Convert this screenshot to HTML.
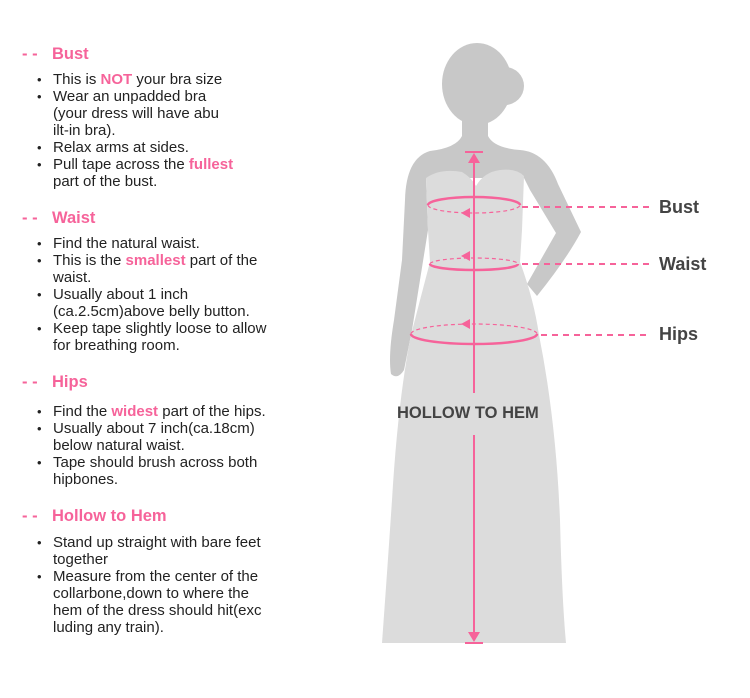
<!DOCTYPE html>
<html><head><meta charset="utf-8"><style>
html,body{margin:0;padding:0;background:#fff}
svg{display:block}
text{font-family:"Liberation Sans","DejaVu Sans",sans-serif}
.t{font-size:15px;fill:#222}
.p{fill:#f6639a;font-weight:bold}
.h{font-size:16.5px;fill:#f6639a;font-weight:bold}
.b{font-size:13px;fill:#222}
.l{font-size:18px;fill:#444;font-weight:bold}
</style></head><body>
<svg width="750" height="698" viewBox="0 0 750 698" xmlns="http://www.w3.org/2000/svg">
<g fill="#c8c8c8">
<ellipse cx="477" cy="84" rx="35" ry="41"/>
<circle cx="505" cy="86" r="19"/>
<path d="M462 110 L488 110 L488 136 Q494 148 520 150 Q546 152 558 184 L581 232 Q566 260 537 296 L527 284 L556 233 L530 190 L524 178 L426 178 L428 230 L420 280 L412 330 L404 370 Q398 380 391 374 Q388 356 394 320 L402 260 L405 200 Q406 158 430 151 Q456 148 462 136 Z"/>
</g>
<path fill="#dcdcdc" d="M426 178 Q440 168 462 172 Q472 178 476 186 Q484 172 500 170 Q516 168 524 176 L522 230 L520 262 Q534 300 539 335 Q556 420 560 520 Q562 600 566 643 L382 643 Q388 560 392 500 Q398 400 411 335 Q420 300 430 262 L428 230 Z"/>
<g stroke="#f6639a" fill="none">
<path d="M428 205 A46 8 0 0 1 520 205" stroke-width="2.5"/>
<path d="M428 205 A46 8 0 0 0 520 205" stroke-width="1.2" stroke-dasharray="4 3"/>
<path d="M430 264 A44 6 0 0 1 518 264" stroke-width="1.2" stroke-dasharray="4 3"/>
<path d="M430 264 A44 6 0 0 0 518 264" stroke-width="2.5"/>
<path d="M411 334 A63 10 0 0 1 537 334" stroke-width="1.2" stroke-dasharray="4 3"/>
<path d="M411 334 A63 10 0 0 0 537 334" stroke-width="2.5"/>
<line x1="522" y1="207" x2="650" y2="207" stroke-width="2" stroke-dasharray="6 5"/>
<line x1="522" y1="264" x2="650" y2="264" stroke-width="2" stroke-dasharray="6 5"/>
<line x1="541" y1="335" x2="650" y2="335" stroke-width="2" stroke-dasharray="6 5"/>
<line x1="474" y1="160" x2="474" y2="393" stroke-width="2"/>
<line x1="474" y1="435" x2="474" y2="636" stroke-width="2"/>
<line x1="465" y1="152" x2="483" y2="152" stroke-width="2"/>
<line x1="465" y1="643" x2="483" y2="643" stroke-width="2"/>
</g>
<g fill="#f6639a">
<path d="M474 153 L468 163 L480 163 Z"/>
<path d="M474 642 L468 632 L480 632 Z"/>
<path d="M461 213 L470 208 L470 218 Z"/>
<path d="M461 256 L470 251 L470 261 Z"/>
<path d="M461 324 L470 319 L470 329 Z"/>
</g>
<text x="397" y="418" font-size="16.5" font-weight="bold" fill="#444">HOLLOW TO HEM</text>
<text class="l" x="659" y="213">Bust</text>
<text class="l" x="659" y="270">Waist</text>
<text class="l" x="659" y="340">Hips</text>
<g>
<text class="h" x="22" y="59">- -</text><text class="h" x="52" y="59">Bust</text>
<text class="b" x="37" y="84">•</text><text class="t" x="53" y="84">This is <tspan class="p">NOT</tspan> your bra size</text>
<text class="b" x="37" y="101">•</text><text class="t" x="53" y="101">Wear an unpadded bra</text>
<text class="t" x="53" y="118">(your dress will have abu</text>
<text class="t" x="53" y="135">ilt-in bra).</text>
<text class="b" x="37" y="152">•</text><text class="t" x="53" y="152">Relax arms at sides.</text>
<text class="b" x="37" y="169">•</text><text class="t" x="53" y="169">Pull tape across the <tspan class="p">fullest</tspan></text>
<text class="t" x="53" y="186">part of the bust.</text>

<text class="h" x="22" y="223">- -</text><text class="h" x="52" y="223">Waist</text>
<text class="b" x="37" y="248">•</text><text class="t" x="53" y="248">Find the natural waist.</text>
<text class="b" x="37" y="265">•</text><text class="t" x="53" y="265">This is the <tspan class="p">smallest</tspan> part of the</text>
<text class="t" x="53" y="282">waist.</text>
<text class="b" x="37" y="299">•</text><text class="t" x="53" y="299">Usually about 1 inch</text>
<text class="t" x="53" y="316">(ca.2.5cm)above belly button.</text>
<text class="b" x="37" y="333">•</text><text class="t" x="53" y="333">Keep tape slightly loose to allow</text>
<text class="t" x="53" y="350">for breathing room.</text>

<text class="h" x="22" y="387">- -</text><text class="h" x="52" y="387">Hips</text>
<text class="b" x="37" y="416">•</text><text class="t" x="53" y="416">Find the <tspan class="p">widest</tspan> part of the hips.</text>
<text class="b" x="37" y="433">•</text><text class="t" x="53" y="433">Usually about 7 inch(ca.18cm)</text>
<text class="t" x="53" y="450">below natural waist.</text>
<text class="b" x="37" y="467">•</text><text class="t" x="53" y="467">Tape should brush across both</text>
<text class="t" x="53" y="484">hipbones.</text>

<text class="h" x="22" y="521">- -</text><text class="h" x="52" y="521">Hollow to Hem</text>
<text class="b" x="37" y="547">•</text><text class="t" x="53" y="547">Stand up straight with bare feet</text>
<text class="t" x="53" y="564">together</text>
<text class="b" x="37" y="581">•</text><text class="t" x="53" y="581">Measure from the center of the</text>
<text class="t" x="53" y="598">collarbone,down to where the</text>
<text class="t" x="53" y="615">hem of the dress should hit(exc</text>
<text class="t" x="53" y="632">luding any train).</text>
</g>
</svg>
</body></html>
